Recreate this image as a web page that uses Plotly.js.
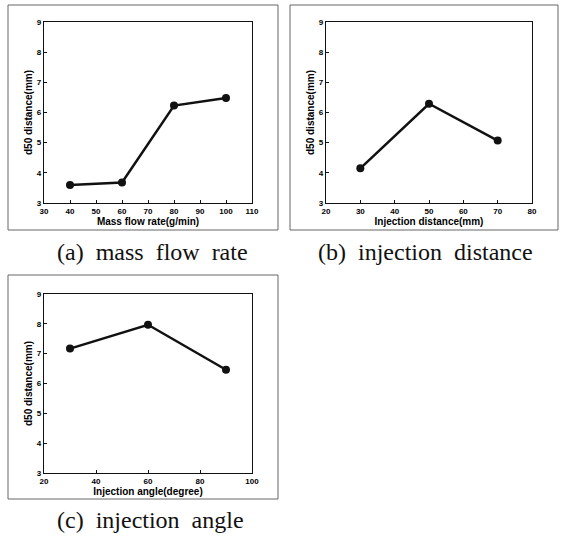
<!DOCTYPE html>
<html><head><meta charset="utf-8">
<script src="https://cdn.plot.ly/plotly-3.0.1.min.js"></script>
<style>html,body{margin:0;padding:0;background:#fff}#c{width:563px;height:539px}</style>
</head><body><div id="c"></div>
<script>
const massFlow = [40, 60, 80, 100];
const d50Mass = [3.6, 3.68, 6.23, 6.48];
const injDist = [30, 50, 70];
const d50Dist = [4.15, 6.29, 5.07];
const injAngle = [30, 60, 90];
const d50Angle = [7.17, 7.97, 6.46];
const yTicks = [3, 4, 5, 6, 7, 8, 9];
const xTicksA = [30, 40, 50, 60, 70, 80, 90, 100, 110];
const xTicksB = [20, 30, 40, 50, 60, 70, 80];
const xTicksC = [20, 40, 60, 80, 100];
const captions = ["(a)&nbsp; mass&nbsp; flow&nbsp; rate", "(b)&nbsp; injection&nbsp; distance", "(c)&nbsp; injection&nbsp; angle"];
const xTitles = ["Mass flow rate(g/min)", "Injection distance(mm)", "Injection angle(degree)"];
const yTitle = "d50 distance(mm)";

const W = 563, H = 539;
const px = v => v / W, py = v => 1 - v / H;

const line = {color: '#111', width: 2.5};
const marker = {color: '#111', size: 8, symbol: 'circle'};
const traces = [
  {x: massFlow, y: d50Mass, xaxis: 'x', yaxis: 'y', mode: 'lines+markers', line, marker},
  {x: injDist, y: d50Dist, xaxis: 'x2', yaxis: 'y2', mode: 'lines+markers', line, marker},
  {x: injAngle, y: d50Angle, xaxis: 'x3', yaxis: 'y3', mode: 'lines+markers', line, marker}
];

const tickFont = {family: 'Liberation Sans, Arial', size: 8, color: '#000', weight: 'bold'};
const titleFont = {family: 'Liberation Sans, Arial', size: 10, color: '#000', weight: 'bold'};
function xa(dom, anchor, ticks, title) {
  return {domain: dom, anchor, range: [ticks[0], ticks[ticks.length-1]], tickvals: ticks,
    ticktext: ticks.map(String), ticks: 'inside', ticklen: 3, tickcolor: '#111', showline: true, mirror: true,
    linecolor: '#111', linewidth: 1.2, showgrid: false, zeroline: false, tickfont: tickFont,
    title: {text: title, font: titleFont, standoff: 2}};
}
function ya(dom, anchor) {
  return {domain: dom, anchor, range: [3, 9], tickvals: yTicks, ticktext: yTicks.map(String),
    ticks: 'inside', ticklen: 3, tickcolor: '#111', showline: true, mirror: true, linecolor: '#111',
    linewidth: 1.2, showgrid: false, zeroline: false, tickfont: tickFont,
    title: {text: yTitle, font: titleFont, standoff: 2}};
}
const capFont = {family: 'Liberation Serif, Times New Roman', size: 24, color: '#111'};

const layout = {
  width: W, height: H, margin: {l: 0, r: 0, t: 0, b: 0}, showlegend: false,
  paper_bgcolor: '#fff', plot_bgcolor: '#fff',
  xaxis: xa([px(44), px(252)], 'y', xTicksA, xTitles[0]),
  yaxis: ya([py(203), py(22)], 'x'),
  xaxis2: xa([px(326), px(532)], 'y2', xTicksB, xTitles[1]),
  yaxis2: ya([py(203), py(22)], 'x2'),
  xaxis3: xa([px(44), px(252)], 'y3', xTicksC, xTitles[2]),
  yaxis3: ya([py(473), py(294)], 'x3'),
  shapes: [
    {type: 'rect', xref: 'paper', yref: 'paper', x0: px(8), x1: px(278), y0: py(230), y1: py(5), line: {color: '#666', width: 1}},
    {type: 'rect', xref: 'paper', yref: 'paper', x0: px(290), x1: px(558), y0: py(230), y1: py(5), line: {color: '#666', width: 1}},
    {type: 'rect', xref: 'paper', yref: 'paper', x0: px(8), x1: px(278), y0: py(499), y1: py(275), line: {color: '#666', width: 1}}
  ],
  annotations: [
    {text: captions[0], xref: 'paper', yref: 'paper', x: px(152), y: py(252), xanchor: 'center', yanchor: 'middle', showarrow: false, font: capFont},
    {text: captions[1], xref: 'paper', yref: 'paper', x: px(425), y: py(252), xanchor: 'center', yanchor: 'middle', showarrow: false, font: capFont},
    {text: captions[2], xref: 'paper', yref: 'paper', x: px(150), y: py(520), xanchor: 'center', yanchor: 'middle', showarrow: false, font: capFont}
  ]
};
Plotly.newPlot('c', traces, layout, {staticPlot: true});
</script></body></html>
